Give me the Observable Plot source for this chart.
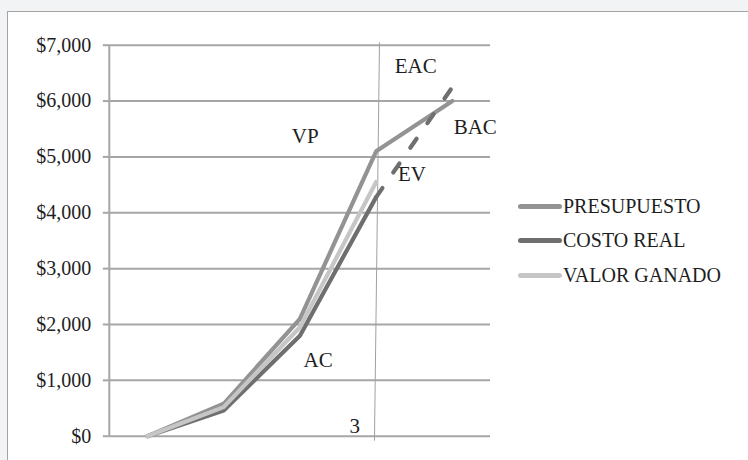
<!DOCTYPE html>
<html>
<head>
<meta charset="utf-8">
<script src="https://cdn.jsdelivr.net/npm/d3@7"></script>
<script src="https://cdn.jsdelivr.net/npm/@observablehq/plot@0.6"></script>
<style>
  html, body { margin: 0; padding: 0; background: #f2f3f5; width: 748px; height: 460px; overflow: hidden; }
  #frame { position: absolute; left: 7px; top: 11px; width: 760px; height: 470px; background: #fff; border: 1.5px solid #a4a4a4; box-sizing: border-box; }
  #chart { position: absolute; left: 0; top: 0; }
  #legend { position: absolute; left: 518px; top: 189px; font-family: "Liberation Serif", serif; font-size: 20px; color: #1e1e1e; }
  .item { display: flex; align-items: center; height: 34.5px; }
  .sw { width: 44px; height: 5px; border-radius: 2.5px; margin-right: 1px; }
</style>
</head>
<body>
<div id="frame"></div>
<div id="chart"></div>
<div id="legend"></div>
<script>
const categories = [0, 1, 2, 3, 4];
const seriesNames = ["PRESUPUESTO", "COSTO REAL", "VALOR GANADO"];
const seriesColors = ["#939393", "#6f6f6f", "#c6c6c6"];
const presupuesto = [0, 580, 2100, 5100, 6000];
const costoReal = [0, 460, 1800, 4280];
const valorGanado = [0, 520, 1950, 4550];
const eacX = [3, 4];
const eacValues = [4280, 6250];
const yTicks = [0, 1000, 2000, 3000, 4000, 5000, 6000, 7000];
const periodLine = [{x1: 2.978, y1: -80, x2: 3.044, y2: 7050}];
const annotText = ["EAC", "VP", "BAC", "EV", "AC", "3"];
const annotX = [3.52, 2.07, 4.30, 3.47, 2.24, 2.72];
const annotY = [6627, 5374, 5535, 4694, 1364, 183];

const seriesValues = [presupuesto, costoReal, valorGanado];
const rows = [];
seriesNames.forEach((name, s) => {
  seriesValues[s].forEach((v, i) => rows.push({series: name, x: categories[i], y: v}));
});
const eacRows = eacX.map((x, i) => ({x, y: eacValues[i]}));
const annots = annotText.map((t, i) => ({t, x: annotX[i], y: annotY[i]}));

const gridColor = "#a6a6a6";
const plot = Plot.plot({
  width: 748,
  height: 460,
  marginLeft: 108.8,
  marginRight: 258,
  marginTop: 44.7,
  marginBottom: 24.3,
  style: {background: "transparent", fontFamily: "Liberation Serif, serif", fontSize: "20px", color: "#1e1e1e"},
  x: {type: "linear", domain: [-0.5, 4.5], axis: null},
  y: {domain: [0, 7000], axis: null},
  marks: [
    Plot.ruleY(yTicks, {x1: -0.5, x2: 4.5, stroke: gridColor, strokeWidth: 2}),
    Plot.ruleX([-0.5], {y1: 0, y2: 7000, stroke: gridColor, strokeWidth: 2}),
    Plot.axisY({ticks: yTicks, tickFormat: d3.format("$,.0f"), tickSize: 6, tickPadding: 12, fill: "#1e1e1e", stroke: gridColor, strokeWidth: 2, fontSize: 20}),
    Plot.link(periodLine, {x1: "x1", y1: "y1", x2: "x2", y2: "y2", stroke: "#a0a0a0", strokeWidth: 1}),
    ...seriesNames.map((name, s) => Plot.line(rows.filter(r => r.series === name), {
      x: "x", y: "y", stroke: seriesColors[s], strokeWidth: 4.2, strokeLinecap: "round", strokeLinejoin: "round"
    })),
    Plot.line(eacRows, {x: "x", y: "y", stroke: "#6f6f6f", strokeWidth: 4.2, strokeDasharray: "11,19", strokeLinecap: "round"}),
    Plot.text(annots, {x: "x", y: "y", text: "t", fill: "#1e1e1e", fontSize: 21, textAnchor: "middle"})
  ]
});
document.getElementById("chart").appendChild(plot);

const legend = document.getElementById("legend");
seriesNames.forEach((name, s) => {
  const item = document.createElement("div");
  item.className = "item";
  const sw = document.createElement("div");
  sw.className = "sw";
  sw.style.background = seriesColors[s];
  const label = document.createElement("span");
  label.textContent = name;
  item.appendChild(sw);
  item.appendChild(label);
  legend.appendChild(item);
});
</script>
</body>
</html>
